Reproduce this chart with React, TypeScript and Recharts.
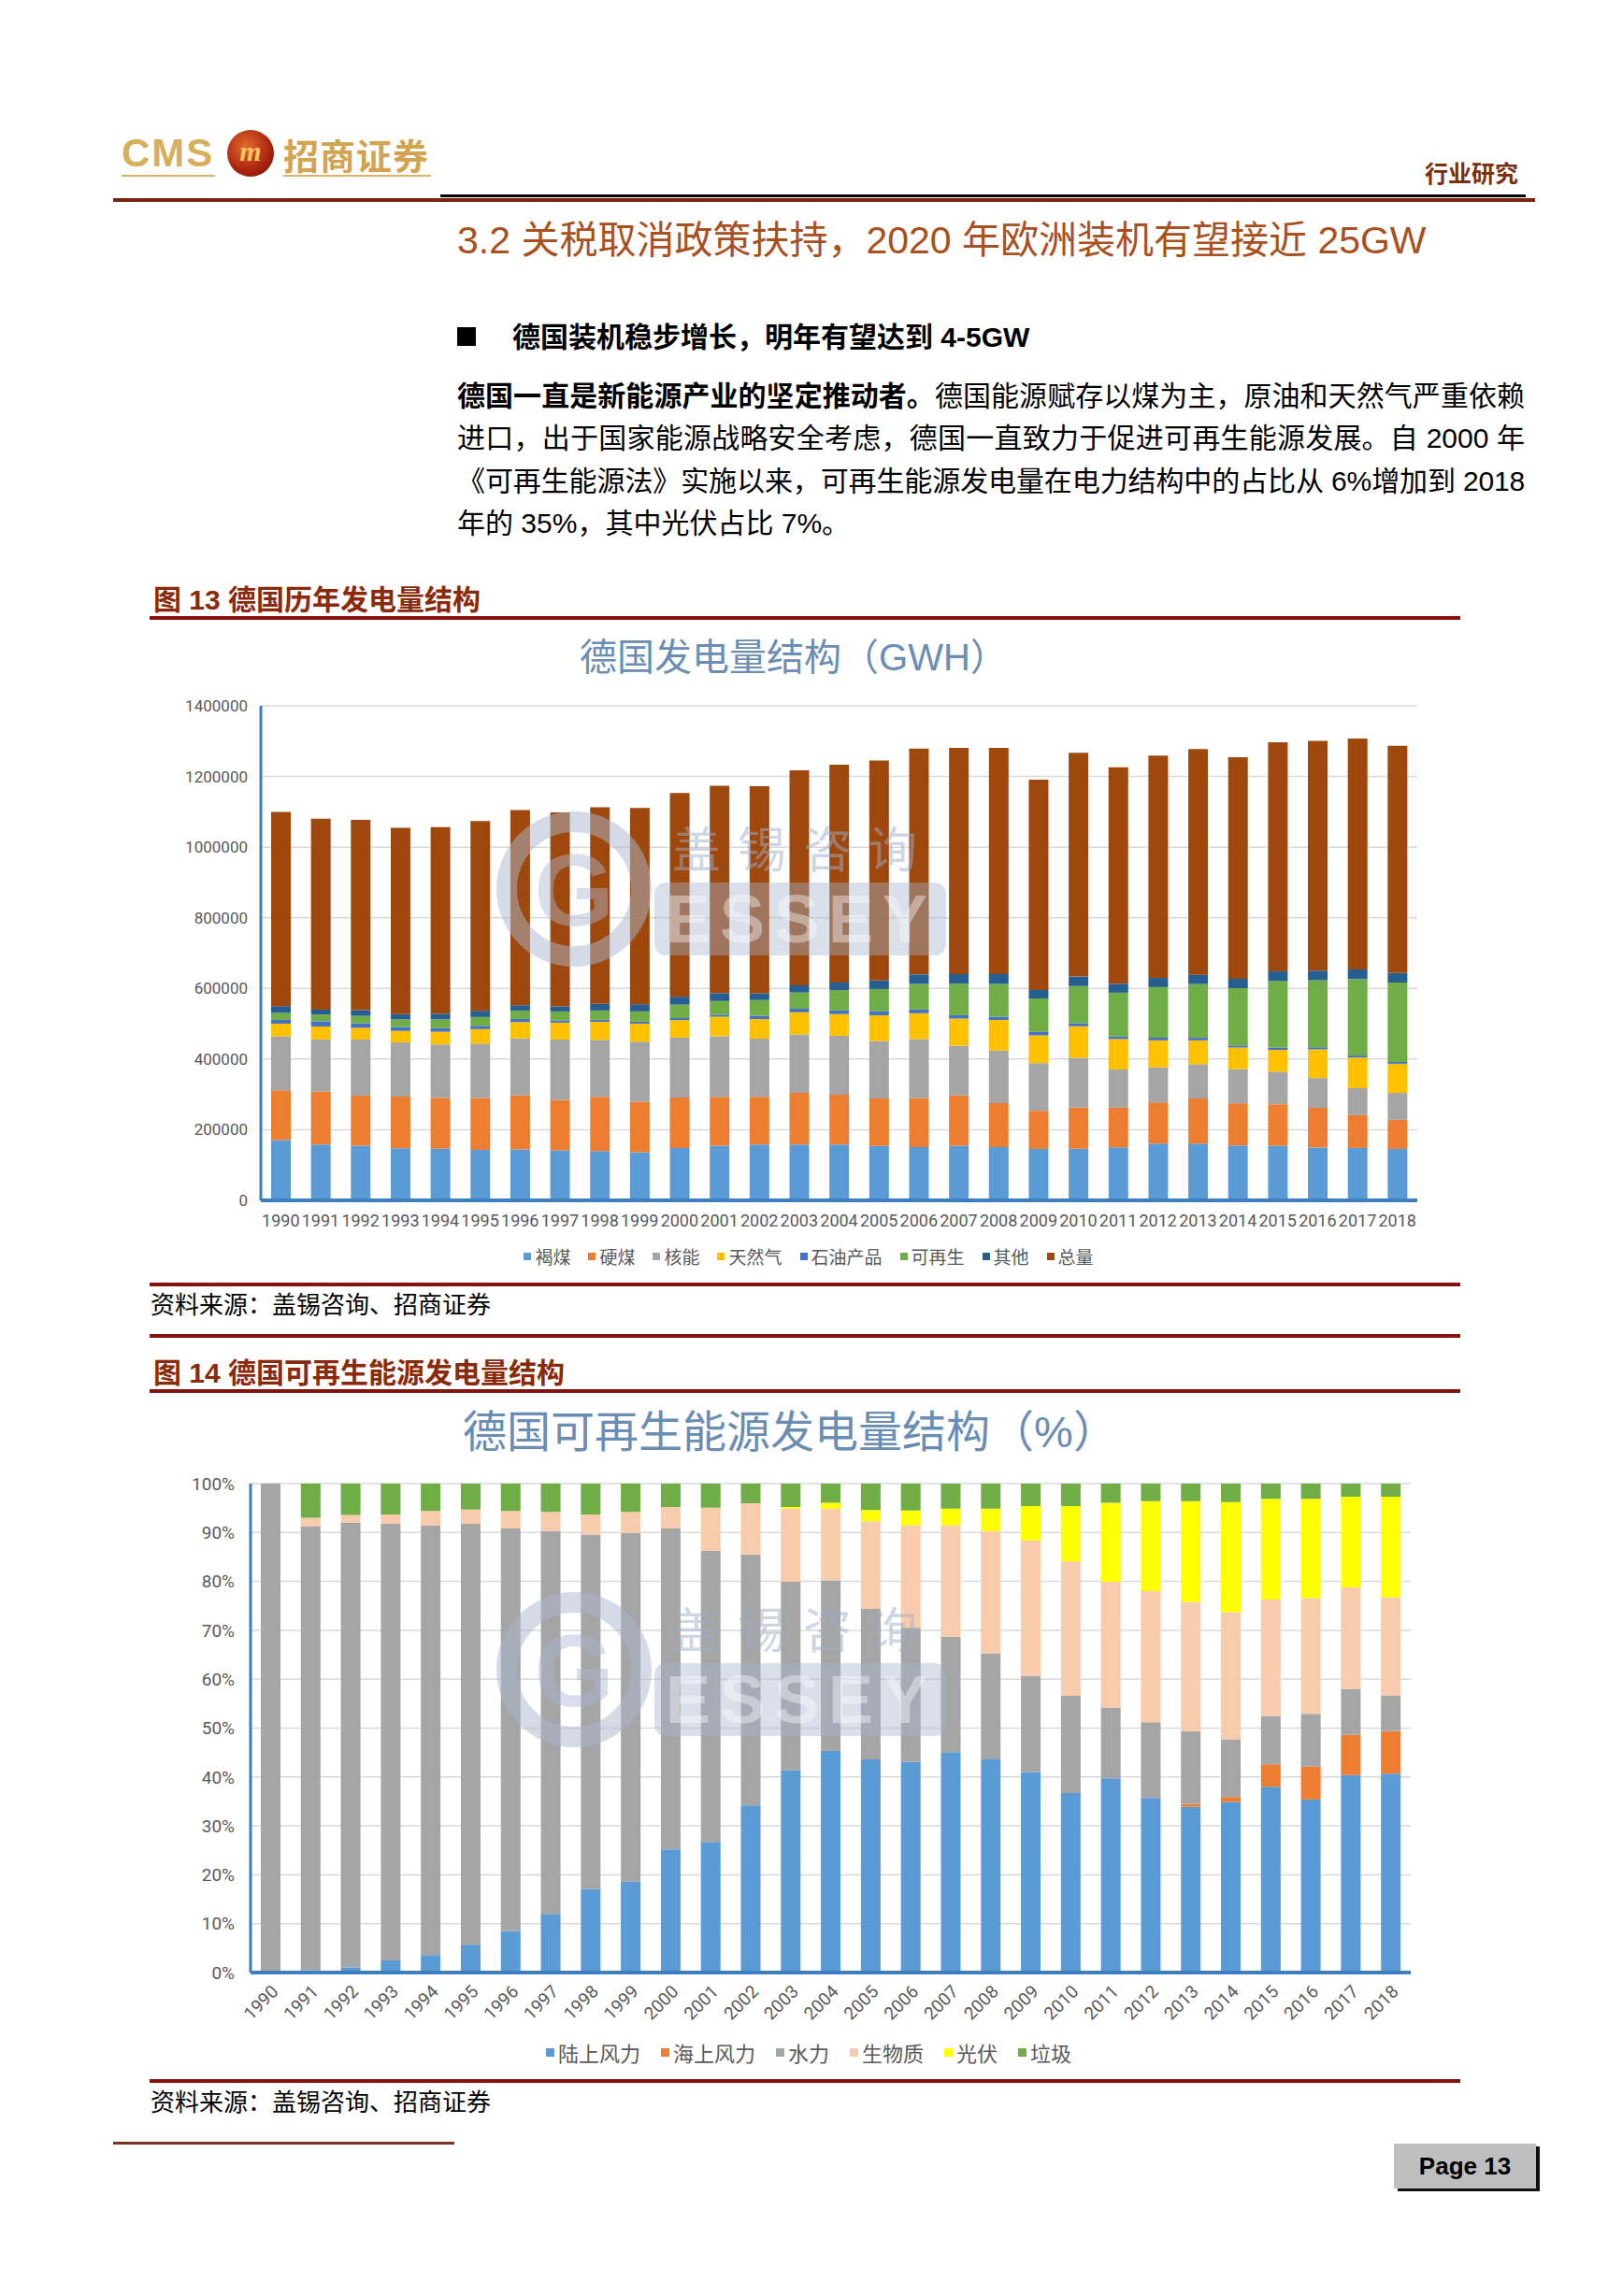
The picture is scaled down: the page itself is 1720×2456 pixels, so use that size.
import React from 'react';
import { BarChart, Bar, XAxis, YAxis, CartesianGrid, Legend } from 'recharts';

const years = ['1990','1991','1992','1993','1994','1995','1996','1997','1998','1999','2000','2001','2002','2003','2004','2005','2006','2007','2008','2009','2010','2011','2012','2013','2014','2015','2016','2017','2018'];

// 德国发电量结构 (GWh)
const lignite = [170900,158300,154700,147500,146100,142600,144300,141700,139400,136000,148300,154800,158200,158000,158000,154100,151100,155100,150600,145600,145900,150100,160700,160900,155800,154500,149500,148400,145600];
const hardCoal = [140800,149800,141900,146100,144100,147100,152700,143100,153400,143100,143100,138400,134600,146500,140800,134100,137900,142000,124600,107900,117000,112400,116400,127300,118600,117700,112200,92900,82600];
const nuclear = [152500,147400,158800,153500,151200,154100,161600,170300,161600,170000,169600,171300,164800,165100,167100,163000,167300,140500,148800,134900,140600,108000,99500,97300,97100,91800,84600,76300,76000];
const naturalGas = [35900,36700,33100,32600,35900,41100,46000,48000,51000,51200,49200,55500,55600,62900,61400,72700,73400,77000,86700,78800,89300,86100,76400,67500,61100,62000,81300,86700,82500];
const oilProducts = [10800,14800,12800,10900,10200,9100,8700,6400,5900,5500,5900,5800,9200,9900,10300,12000,10500,9600,9200,9600,8700,7200,7600,7200,5700,6200,5800,5600,5100];
const renewables = [19700,18900,20900,21700,24800,25100,24100,25300,26300,29100,37900,38500,44600,46000,57700,62500,72500,89400,93200,94900,105200,124000,143000,152300,162500,188800,189700,216300,224800];
const others = [19300,14300,16400,15100,15900,17700,15100,14300,18800,20400,22600,22400,19300,20400,21500,24200,26900,27000,27500,23900,26900,25300,26000,26200,26500,27300,27300,27500,26900];
const totalGen = [549900,540200,538600,527400,528200,536800,552500,549100,556400,555300,576600,586700,586300,608800,616800,622600,639600,640600,640600,595600,633600,613100,629600,638700,627300,648300,650400,653700,643500];
const genTicks = [0,200000,400000,600000,800000,1000000,1200000,1400000];

// 德国可再生能源发电量结构 (%)
const onshoreWind = [0,0.5,1.0,2.5,3.6,5.7,8.5,12.0,17.1,18.6,25.2,26.7,34.2,41.4,45.3,43.6,43.1,45.1,43.6,41.0,36.7,39.7,35.7,33.9,34.9,38.0,35.4,40.4,40.7];
const offshoreWind = [0,0,0,0,0,0,0,0,0,0,0,0,0,0,0,0,0,0,0,0,0,0,0,0.6,1.0,4.6,6.7,8.2,8.7];
const hydro = [100,90.8,91.0,89.3,87.9,86.1,82.3,78.3,72.5,71.3,65.6,59.6,51.3,38.5,34.9,30.8,27.4,23.6,21.7,19.7,19.9,14.5,15.5,14.9,11.8,9.9,10.8,9.4,7.2];
const biomass = [0,1.7,1.6,1.9,2.9,2.9,3.6,3.9,4.1,4.3,4.4,8.8,10.5,15.0,14.7,17.9,21.0,22.8,25.0,27.7,27.5,25.7,26.8,26.4,26.0,23.8,23.7,20.8,20.1];
const solarPV = [0,0,0,0,0,0,0,0,0,0,0,0,0,0.3,1.2,2.3,3.0,3.4,4.6,7.0,11.3,16.2,18.4,20.6,22.5,20.6,20.3,18.5,20.6];
const waste = [0,7.0,6.4,6.3,5.6,5.3,5.6,5.8,6.3,5.8,4.8,4.9,4.0,4.8,3.9,5.4,5.5,5.1,5.1,4.6,4.6,3.9,3.6,3.6,3.8,3.1,3.1,2.7,2.7];
const pctTicks = [0,10,20,30,40,50,60,70,80,90,100];

const genSeries = [
  { key: 'lignite', name: '褐煤', color: '#5B9BD5', values: lignite },
  { key: 'hardCoal', name: '硬煤', color: '#ED7D31', values: hardCoal },
  { key: 'nuclear', name: '核能', color: '#A5A5A5', values: nuclear },
  { key: 'gas', name: '天然气', color: '#FFC000', values: naturalGas },
  { key: 'oil', name: '石油产品', color: '#4472C4', values: oilProducts },
  { key: 'renew', name: '可再生', color: '#70AD47', values: renewables },
  { key: 'other', name: '其他', color: '#255E91', values: others },
  { key: 'total', name: '总量', color: '#9E480E', values: totalGen },
];

const renSeries = [
  { key: 'onshore', name: '陆上风力', color: '#5B9BD5', values: onshoreWind },
  { key: 'offshore', name: '海上风力', color: '#ED7D31', values: offshoreWind },
  { key: 'hydro', name: '水力', color: '#A5A5A5', values: hydro },
  { key: 'biomass', name: '生物质', color: '#F8CBAD', values: biomass },
  { key: 'pv', name: '光伏', color: '#FFFF00', values: solarPV },
  { key: 'waste', name: '垃圾', color: '#70AD47', values: waste },
];

const buildData = (series: any[]) =>
  years.map((y, i) => {
    const row: any = { year: y };
    series.forEach((s) => { row[s.key] = s.values[i]; });
    return row;
  });

const genData = buildData(genSeries);
const renData = buildData(renSeries);

const CJK = '"Noto Sans CJK SC", sans-serif';
const MIX = '"Liberation Sans", "Noto Sans CJK SC", sans-serif';
const AXIS_BLUE = '#3D7EBF';
const DARK_RED = '#84130E';

const T = ({ x, cy, size, children, style }: any) => (
  <div style={{ position: 'absolute', left: x, top: cy - size * 0.75, height: size * 1.5, lineHeight: `${size * 1.5}px`, fontSize: size, whiteSpace: 'nowrap', ...style }}>
    {children}
  </div>
);

const Rule = ({ x, y, w, h, color }: any) => (
  <div style={{ position: 'absolute', left: x, top: y, width: w, height: h, background: color }} />
);

const makeLegend = (items: any[], fontSize: number, gap: number, marker: number) => () => (
  <div style={{ display: 'flex', justifyContent: 'center', alignItems: 'center', height: 30, columnGap: gap, fontFamily: CJK }}>
    {items.map((it) => (
      <div key={it.key} style={{ display: 'flex', alignItems: 'center' }}>
        <span style={{ display: 'inline-block', width: marker, height: marker, background: it.color, marginRight: 4 }} />
        <span style={{ fontSize, color: '#595959', lineHeight: '30px' }}>{it.name}</span>
      </div>
    ))}
  </div>
);

const Watermark = ({ dy }: any) => (
  <g transform={`translate(0, ${dy})`} style={{ pointerEvents: 'none' }}>
    <circle cx={614} cy={951} r={72} fill="none" stroke="rgba(170,184,208,0.5)" strokeWidth={22} />
    <text x={614} y={990} textAnchor="middle" fontSize={110} fontWeight={700} fontFamily={MIX} fill="rgba(170,184,208,0.45)">G</text>
    <text x={719} y={928} fontSize={52} fontFamily={CJK} fill="rgba(160,174,200,0.5)" letterSpacing={18}>盖锡咨询</text>
    <rect x={700} y={944} width={312} height={78} rx={12} fill="rgba(165,180,205,0.42)" />
    <text x={712} y={1008} fontSize={72} fontWeight={700} fontFamily={MIX} fill="rgba(255,255,255,0.4)" letterSpacing={10}>ESSEY</text>
  </g>
);

const tickStyle = (size: number) => ({ fontSize: size, fill: '#595959', fontFamily: 'Roboto, sans-serif' });

export default function App() {
  return (
    <div style={{ position: 'absolute', left: 0, top: 0, width: 1720, height: 2456, background: '#fff', overflow: 'hidden', fontFamily: MIX, color: '#000' }}>
      {/* header logo */}
      <T x={130} cy={163} size={42} style={{ color: '#D7AE5A', fontWeight: 700, letterSpacing: 2, fontFamily: '"Liberation Sans", sans-serif' }}>CMS</T>
      <div style={{ position: 'absolute', left: 243, top: 139, width: 50, height: 50, borderRadius: 25, background: 'radial-gradient(circle at 40% 35%, #E46A2C, #A8230F 60%, #6B1005)', color: '#F2C95E', fontWeight: 700, fontStyle: 'italic', fontSize: 30, lineHeight: '46px', textAlign: 'center', fontFamily: '"Liberation Serif", serif' }}>m</div>
      <T x={303} cy={164} size={38} style={{ color: '#D2A451', fontWeight: 700, letterSpacing: 1, fontFamily: CJK }}>招商证券</T>
      <Rule x={130} y={187} w={100} h={2} color="#D8B36A" />
      <Rule x={303} y={187} w={158} h={2} color="#D8B36A" />
      <T x={1524} cy={185} size={25} style={{ color: '#7A2E12', fontWeight: 700, fontFamily: CJK }}>行业研究</T>
      <Rule x={471} y={208} w={1161} h={3} color="#000" />
      <Rule x={121} y={212} w={1521} h={4} color="#7B2412" />

      {/* section title */}
      <T x={489} cy={258} size={41} style={{ color: '#A9501F' }}>3.2 关税取消政策扶持，2020 年欧洲装机有望接近 25GW</T>
      <div style={{ position: 'absolute', left: 489, top: 350, width: 20, height: 20, background: '#000' }} />
      <T x={548} cy={360} size={30} style={{ fontWeight: 700 }}>德国装机稳步增长，明年有望达到 4-5GW</T>

      {[
        <><b>德国一直是新能源产业的坚定推动者。</b>德国能源赋存以煤为主，原油和天然气严重依赖</>,
        <>进口，出于国家能源战略安全考虑，德国一直致力于促进可再生能源发展。自 2000 年</>,
        <span style={{ letterSpacing: -0.2 }}>《可再生能源法》实施以来，可再生能源发电量在电力结构中的占比从 6%增加到 2018</span>,
      ].map((line, i) => (
        <T key={i} x={489} cy={423 + i * 45.5} size={30} style={{ width: 1142, textAlign: 'justify', textAlignLast: 'justify' }}>{line}</T>
      ))}
      <T x={489} cy={559} size={30}>年的 35%，其中光伏占比 7%。</T>

      {/* figure 13 */}
      <T x={164} cy={641} size={30} style={{ color: '#8B2A0A', fontWeight: 700 }}>图 13 德国历年发电量结构</T>
      <Rule x={160} y={659} w={1402} h={4} color={DARK_RED} />
      <div style={{ position: 'absolute', left: 349, top: 703 - 30, width: 1000, height: 60, lineHeight: '60px', textAlign: 'center', fontSize: 40, color: '#6A8DB3', fontFamily: MIX }}>德国发电量结构（GWH）</div>

      <div style={{ position: 'absolute', left: 150, top: 740 }}>
        <BarChart width={1400} height={629} data={genData} margin={{ top: 15, right: 34, bottom: 10, left: 64 }} barSize={21}>
          <CartesianGrid horizontal={true} vertical={false} stroke="#D9D9D9" strokeWidth={1.5} />
          <XAxis dataKey="year" interval={0} tickLine={false} tickSize={0} tickMargin={15} height={45} axisLine={{ stroke: AXIS_BLUE, strokeWidth: 4 }} tick={tickStyle(18)} />
          <YAxis width={65} domain={[0, 1400000]} ticks={genTicks} interval={0} tickLine={false} tickSize={0} tickMargin={14} axisLine={{ stroke: AXIS_BLUE, strokeWidth: 3 }} tick={tickStyle(17)} />
          <Legend verticalAlign="bottom" align="center" height={30} content={makeLegend(genSeries, 19, 19, 8)} />
          {genSeries.map((s) => (
            <Bar key={s.key} dataKey={s.key} name={s.name} stackId="g" fill={s.color} isAnimationActive={false} />
          ))}
        </BarChart>
      </div>

      <Rule x={160} y={1372} w={1402} h={4} color={DARK_RED} />
      <T x={161} cy={1393} size={26} style={{ fontFamily: CJK }}>资料来源：盖锡咨询、招商证券</T>
      <Rule x={160} y={1427} w={1402} h={4} color={DARK_RED} />

      {/* figure 14 */}
      <T x={164} cy={1468} size={30} style={{ color: '#8B2A0A', fontWeight: 700 }}>图 14 德国可再生能源发电量结构</T>
      <Rule x={160} y={1486} w={1402} h={4} color={DARK_RED} />
      <div style={{ position: 'absolute', left: 345, top: 1532 - 35, width: 1000, height: 70, lineHeight: '70px', textAlign: 'center', fontSize: 47, color: '#6A8DB3', fontFamily: MIX }}>德国可再生能源发电量结构（%）</div>

      <div style={{ position: 'absolute', left: 150, top: 1570 }}>
        <BarChart width={1400} height={650} data={renData} margin={{ top: 17, right: 41, bottom: 10, left: 71 }} barSize={21}>
          <CartesianGrid horizontal={true} vertical={false} stroke="#D9D9D9" strokeWidth={1.5} />
          <XAxis dataKey="year" interval={0} tickLine={false} tickSize={0} tickMargin={12} height={70} axisLine={{ stroke: AXIS_BLUE, strokeWidth: 4 }} tick={{ ...tickStyle(19), angle: -45, textAnchor: 'end' }} />
          <YAxis width={47} domain={[0, 100]} allowDataOverflow={true} ticks={pctTicks} interval={0} tickLine={false} tickSize={0} tickMargin={17} tickFormatter={(v: number) => `${v}%`} axisLine={{ stroke: AXIS_BLUE, strokeWidth: 3 }} tick={tickStyle(19)} />
          <Legend verticalAlign="bottom" align="center" height={30} content={makeLegend(renSeries, 22, 22, 9)} />
          {renSeries.map((s) => (
            <Bar key={s.key} dataKey={s.key} name={s.name} stackId="r" fill={s.color} isAnimationActive={false} />
          ))}
        </BarChart>
      </div>

      {/* watermarks */}
      <svg width={1720} height={2456} style={{ position: 'absolute', left: 0, top: 0, pointerEvents: 'none' }}>
        <Watermark dy={0} />
        <Watermark dy={835} />
      </svg>

      <Rule x={160} y={2224} w={1402} h={4} color={DARK_RED} />
      <T x={161} cy={2246} size={26} style={{ fontFamily: CJK }}>资料来源：盖锡咨询、招商证券</T>
      <Rule x={121} y={2291} w={365} h={3} color="#7B3020" />
      <div style={{ position: 'absolute', left: 1491, top: 2293, width: 152, height: 48, background: '#BFBFBF', boxShadow: '4px 3px 0 #111', textAlign: 'center', lineHeight: '48px', fontSize: 26, fontWeight: 700, fontFamily: '"Liberation Sans", sans-serif' }}>Page 13</div>
    </div>
  );
}
